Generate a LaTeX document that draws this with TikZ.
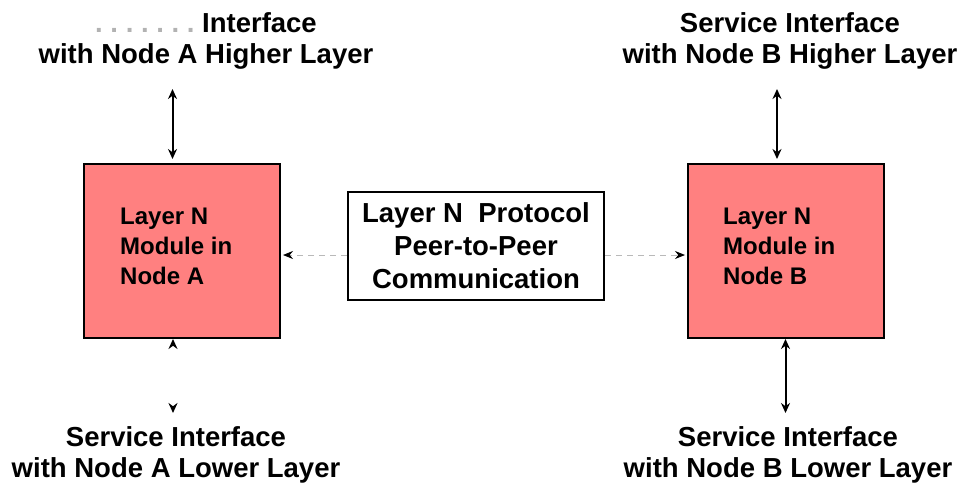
\documentclass[tikz,border=0pt]{standalone}
\usepackage{fontspec}
\setmainfont{Liberation Sans}
\usetikzlibrary{positioning,arrows.meta}
\frenchspacing
\definecolor{modred}{RGB}{255,128,128}
\tikzset{line/.style={draw, line width=2pt, {Stealth[length=10pt,width=9pt]}-{Stealth[length=10pt,width=9pt]}}}
\tikzset{peer/.style={draw=gray!55, line width=1pt, dash pattern=on 6pt off 5pt, -{Stealth[length=10pt,width=8pt,color=black]}}}
\tikzset{ghost/.style={draw=white, {Stealth[length=10pt,width=9pt,color=black]}-{Stealth[length=10pt,width=9pt,color=black]}}}

\begin{document}
\begin{tikzpicture}[x=1pt, y=-1pt]
\tikzstyle{module} = [rectangle, draw, line width=2pt, fill=modred, minimum width=196pt, minimum height=174pt]
\tikzstyle{Text} = [inner sep=0pt, align=left, font=\fontsize{24}{30}\selectfont\bfseries]
\tikzstyle{iface} = [inner sep=0pt, align=center, font=\fontsize{27.5}{31}\selectfont\bfseries]
\tikzstyle{rect} = [rectangle, draw, line width=2pt, align=center, minimum width=256pt, minimum height=108pt, inner sep=0pt, font=\fontsize{27.5}{33}\selectfont\bfseries]

\useasboundingbox (0,0) rectangle (964,485);

\node [module] (modA) at (182,251) {};
\node [module] (modB) at (786,251) {};
\node [rect] (proto) at (476,246) {Layer N\ \ Protocol\\Peer-to-Peer\\Communication};
\node [Text, anchor=west] (txtA) at ([xshift=37pt, yshift=4.5pt]modA.west) {Layer N\\Module in\\Node A};
\node [Text, anchor=west] (txtB) at ([xshift=36pt, yshift=4.5pt]modB.west) {Layer N\\Module in\\Node B};
\node [iface, above=93pt of modA, xshift=24pt] (topA) {{\color{gray!60}. . . . . . .} Interface\\with Node A Higher Layer};
\node [iface, above=93pt of modB, xshift=4pt] (topB) {Service Interface\\with Node B Higher Layer};
\node [iface, below=87pt of modA, xshift=-6pt] (botA) {Service Interface\\with Node A Lower Layer};
\node [iface, below=87pt of modB, xshift=2pt] (botB) {Service Interface\\with Node B Lower Layer};

\path [line, shorten <=4pt, shorten >=19pt] ([xshift=-9.5pt]modA.north) -- ([xshift=-9.5pt]modA.north |- topA.south);
\path [line, shorten <=4pt, shorten >=19pt] ([xshift=-9pt]modB.north) -- ([xshift=-9pt]modB.north |- topB.south);
\path [line, ghost, shorten >=13pt] ([xshift=-9pt]modA.south) -- ([xshift=-9pt]modA.south |- botA.north);
\path [line, shorten >=13pt] ([xshift=-0.5pt]modB.south) -- ([xshift=-0.5pt]modB.south |- botB.north);
\path [peer, shorten >=2pt] ([yshift=-9pt]proto.west) -- ([yshift=-9pt]proto.west -| modA.east);
\path [peer, shorten >=2pt] ([yshift=-9pt]proto.east) -- ([yshift=-9pt]proto.east -| modB.west);

\end{tikzpicture}
\end{document}
